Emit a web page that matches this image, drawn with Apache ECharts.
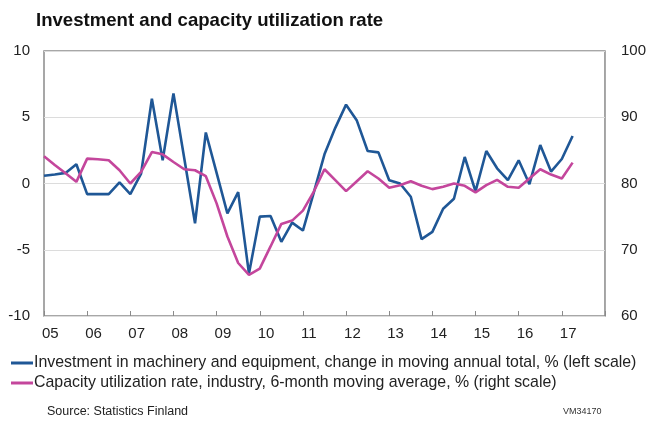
<!DOCTYPE html>
<html>
<head>
<meta charset="utf-8">
<script src="https://cdn.jsdelivr.net/npm/echarts@6/dist/echarts.min.js"></script>
<style>
  html, body { margin: 0; padding: 0; background: #fff; }
  #chart { width: 649px; height: 423px; }
</style>
</head>
<body>
<div id="chart"></div>
<script>
  // quarterly series, 2005Q1 .. 2017Q2
  const startYear = 2005
  const yearLabels = ['05', '06', '07', '08', '09', '10', '11', '12', '13', '14', '15', '16', '17']
  const investment = [
    0.58, 0.68, 0.8, 1.45, -0.8, -0.8, -0.8, 0.08, -0.8, 0.75,
    6.4, 1.75, 6.8, 1.9, -3.0, 3.85, 0.8, -2.25, -0.65, -6.8,
    -2.5, -2.45, -4.4, -2.95, -3.55, -0.7, 2.2, 4.2, 5.95, 4.75,
    2.45, 2.35, 0.25, 0.0, -1.0, -4.2, -3.65, -1.9, -1.15, 2.0,
    -0.6, 2.45, 1.15, 0.25, 1.75, -0.05, 2.9, 0.9, 1.85, 3.58
  ]
  const utilization = [
    84.1, 82.8, 81.55, 80.25, 83.75, 83.65, 83.5, 82.0, 80.0, 81.75,
    84.75, 84.4, 83.25, 82.15, 82.0, 81.1, 77.0, 72.0, 68.0, 66.2,
    67.15, 70.5, 73.9, 74.4, 75.9, 78.75, 82.15, 80.5, 78.85, 80.35,
    81.85, 80.75, 79.35, 79.75, 80.35, 79.65, 79.15, 79.5, 80.0, 79.65,
    78.65, 79.75, 80.55, 79.5, 79.35, 80.75, 82.15, 81.35, 80.75, 83.15
  ]

  const toPoints = arr => arr.map((v, i) => [startYear + i / 4, v])
  const font = "'Liberation Sans', Arial, sans-serif"

  const chart = echarts.init(document.getElementById('chart'))
  const option = {
    animation: false,
    textStyle: { fontFamily: font },
    title: {
      text: 'Investment and capacity utilization rate',
      left: 31,
      top: 6,
      textStyle: { fontSize: 18.6, fontWeight: 'bold', color: '#111', fontFamily: font }
    },
    grid: {
      left: 44, right: 42, top: 51, bottom: 107,
      show: true, borderColor: '#8a8a8a', borderWidth: 1.5
    },
    legend: {
      orient: 'vertical',
      left: 6,
      top: 350,
      itemWidth: 22,
      itemHeight: 3,
      itemGap: 4,
      icon: 'rect',
      textStyle: { fontSize: 15.9, color: '#222', fontFamily: font, padding: [0, 0, 0, -4] },
      data: [
        'Investment in machinery and equipment, change in moving annual total, % (left scale)',
        'Capacity utilization rate, industry, 6-month moving average, % (right scale)'
      ]
    },
    xAxis: {
      type: 'value',
      min: startYear,
      max: startYear + yearLabels.length,
      interval: 1,
      splitLine: { show: false },
      axisLine: { show: false, onZero: false },
      axisTick: { show: true, inside: true, length: 5, lineStyle: { color: '#8a8a8a' } },
      axisLabel: {
        align: 'left',
        margin: 10,
        fontSize: 15,
        color: '#222',
        padding: [0, 0, 0, -2],
        formatter: v => yearLabels[Math.round(v - startYear)] || ''
      }
    },
    yAxis: [{
      type: 'value',
      min: -10, max: 10, interval: 5,
      axisLine: { show: false },
      axisTick: { show: false },
      splitLine: { lineStyle: { color: '#dcdcdc', width: 1.2 } },
      axisLabel: { fontSize: 15, color: '#222', margin: 14 }
    }, {
      type: 'value',
      min: 60, max: 100, interval: 10,
      axisLine: { show: false },
      axisTick: { show: false },
      splitLine: { show: false },
      axisLabel: { fontSize: 15, color: '#222', margin: 16 }
    }],
    series: [{
      name: 'Investment in machinery and equipment, change in moving annual total, % (left scale)',
      type: 'line',
      yAxisIndex: 0,
      symbol: 'none',
      data: toPoints(investment),
      lineStyle: { color: '#1f5796', width: 2.6 },
      itemStyle: { color: '#1f5796' }
    }, {
      name: 'Capacity utilization rate, industry, 6-month moving average, % (right scale)',
      type: 'line',
      yAxisIndex: 1,
      symbol: 'none',
      data: toPoints(utilization),
      lineStyle: { color: '#c4469c', width: 2.6 },
      itemStyle: { color: '#c4469c' }
    }],
    graphic: [{
      type: 'text',
      left: 47,
      top: 405,
      style: { text: 'Source: Statistics Finland', fontSize: 12.5, fill: '#222', fontFamily: font }
    }, {
      type: 'text',
      left: 563,
      top: 407,
      style: { text: 'VM34170', fontSize: 9, fill: '#333', fontFamily: font }
    }]
  }
  chart.setOption(option)
</script>
</body>
</html>
